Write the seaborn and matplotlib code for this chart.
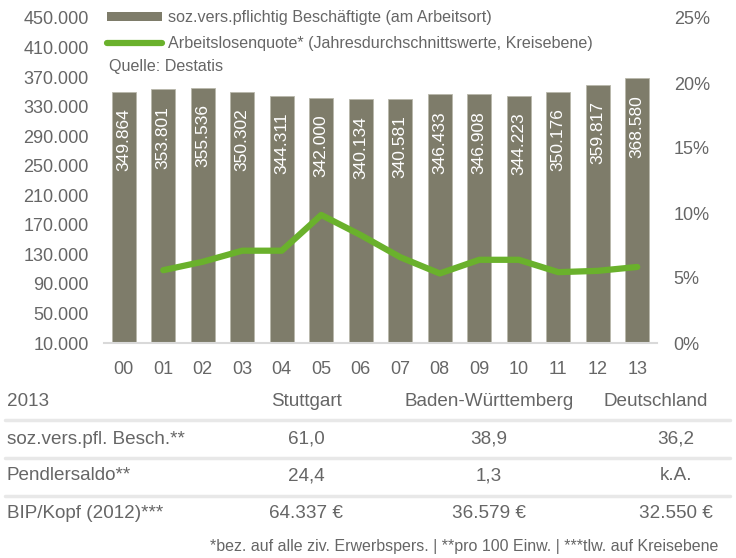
import seaborn as sns
import matplotlib.pyplot as plt
from matplotlib.patches import Patch
from matplotlib.lines import Line2D
from matplotlib.ticker import FuncFormatter

years = ["00", "01", "02", "03", "04", "05", "06", "07", "08", "09", "10", "11", "12", "13"]
employees = [349864, 353801, 355536, 350302, 344311, 342000, 340134,
             340581, 346433, 346908, 344223, 350176, 359817, 368580]
quote_years = ["01", "02", "03", "04", "05", "06", "07", "08", "09", "10", "11", "12", "13"]
quote = [5.6, 6.25, 7.1, 7.1, 9.85, 8.3, 6.6, 5.35, 6.4, 6.4, 5.45, 5.55, 5.85]

table_header = ["2013", "Stuttgart", "Baden-Württemberg", "Deutschland"]
table_rows = [
    ["soz.vers.pfl. Besch.**", "61,0", "38,9", "36,2"],
    ["Pendlersaldo**", "24,4", "1,3", "k.A."],
    ["BIP/Kopf (2012)***", "64.337 €", "36.579 €", "32.550 €"],
]
footnote = "*bez. auf alle ziv. Erwerbspers. | **pro 100 Einw. | ***tlw. auf Kreisebene"

bar_color = "#7e7c6a"
green = "#6ab12c"
txt = "#666666"

sns.set_theme(style="white")
plt.rcParams["font.family"] = ["Liberation Sans", "DejaVu Sans"]

W, H = 736, 558
fig = plt.figure(figsize=(W / 100, H / 100), dpi=100)
ax = fig.add_axes([104 / W, 1 - 343 / H, (657 - 104) / W, (343 - 18) / H])

sns.barplot(x=years, y=employees, color=bar_color, width=0.6, saturation=1,
            edgecolor="#b9b8ab", linewidth=0.6, ax=ax)
ax.set_xlim(-0.5, 13.5)
ax.set_ylim(10000, 450000)
ax.set_yticks(range(10000, 450001, 40000))
ax.yaxis.set_major_formatter(FuncFormatter(lambda v, p: f"{int(v):,}".replace(",", ".")))
ax.set_xlabel("")
ax.set_ylabel("")
ax.tick_params(axis="both", length=0, labelsize=13, labelcolor=txt)
ax.tick_params(axis="y", pad=11)
ax.tick_params(axis="x", pad=13)
for s in ["top", "right", "left"]:
    ax.spines[s].set_visible(False)
ax.spines["bottom"].set_color("#d9d9d9")
ax.spines["bottom"].set_linewidth(1.5)

labels = [f"{v:,}".replace(",", ".") for v in employees]
texts = ax.bar_label(ax.containers[0], labels=labels, rotation=90, padding=-12,
                     color="white", fontsize=12.5)
for t in texts:
    t.set_va("top")

ax2 = ax.twinx()
xpos = [years.index(y) for y in quote_years]
sns.lineplot(x=xpos, y=[q / 100 for q in quote], color=green, linewidth=4.5,
             solid_capstyle="round", solid_joinstyle="round", ax=ax2)
ax2.set_ylim(0, 0.25)
ax2.set_yticks([0, 0.05, 0.10, 0.15, 0.20, 0.25])
ax2.yaxis.set_major_formatter(FuncFormatter(lambda v, p: f"{round(v * 100)}%"))
ax2.tick_params(axis="y", length=0, labelsize=13, labelcolor=txt, pad=12)
ax2.set_ylabel("")
for s in ax2.spines.values():
    s.set_visible(False)

handles = [
    Patch(facecolor=bar_color, edgecolor="none"),
    Line2D([0], [0], color=green, linewidth=4.5),
]
leg = fig.legend(handles, ["soz.vers.pflichtig Beschäftigte (am Arbeitsort)",
                           "Arbeitslosenquote* (Jahresdurchschnittswerte, Kreisebene)"],
                 loc="upper left", bbox_to_anchor=(107 / W, 1 - 10 / H),
                 frameon=False, fontsize=11.6, handlelength=3.4, handleheight=0.5,
                 handletextpad=0.4, labelspacing=0.7, borderpad=0, borderaxespad=0)
for t in leg.get_texts():
    t.set_color(txt)
fig.text(109 / W, 1 - 67 / H, "Quelle: Destatis", fontsize=11.6, color=txt, va="center")

# table below the chart
col_x = [7, 306, 489, 656]
val_x = [7, 306, 489, 676]
row_y = [439, 476, 514]
fig.text(col_x[0] / W, 1 - 401 / H, table_header[0], fontsize=13.6, color=txt, va="center", ha="left")
for x, h in zip(col_x[1:], table_header[1:]):
    fig.text(x / W, 1 - 401 / H, h, fontsize=13.6, color=txt, va="center", ha="center")
for y, row in zip(row_y, table_rows):
    fig.text(val_x[0] / W, 1 - y / H, row[0], fontsize=13.6, color=txt, va="center", ha="left")
    for x, v in zip(val_x[1:], row[1:]):
        fig.text(x / W, 1 - y / H, v, fontsize=13.6, color=txt, va="center", ha="center")
for y in [420, 458, 496]:
    fig.add_artist(Line2D([5 / W, 730 / W], [1 - y / H, 1 - y / H], color="#e8e8e8",
                          linewidth=2.5, transform=fig.transFigure))
fig.text(718 / W, 1 - 546 / H, footnote, fontsize=11.5, color=txt, va="center", ha="right")

fig.savefig("out.png", dpi=100)
